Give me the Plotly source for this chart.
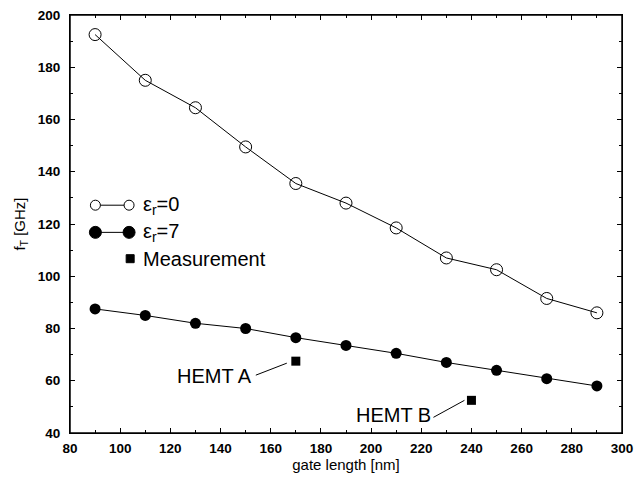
import plotly.graph_objects as go

gate_length = [90, 110, 130, 150, 170, 190, 210, 230, 250, 270, 290]
ft_er0 = [192.5, 175.0, 164.5, 149.5, 135.5, 128.0, 118.5, 107.0, 102.5, 91.5, 86.0]
ft_er7 = [87.5, 85.0, 82.0, 80.0, 76.5, 73.5, 70.5, 67.0, 64.0, 60.8, 58.0]
meas_x = [170, 240]
meas_y = [67.5, 52.5]
meas_labels = ["HEMT A", "HEMT B"]
legend_labels = ["ε<sub>r</sub>=0", "ε<sub>r</sub>=7", "Measurement"]

FONT = "Liberation Sans, Arial, Helvetica, sans-serif"

fig = go.Figure()
fig.add_trace(go.Scatter(x=gate_length, y=ft_er0, mode="lines+markers",
                         line=dict(color="black", width=1),
                         marker=dict(symbol="circle-open", size=12, color="black", line=dict(width=1)),
                         showlegend=False))
fig.add_trace(go.Scatter(x=gate_length, y=ft_er7, mode="lines+markers",
                         line=dict(color="black", width=1),
                         marker=dict(symbol="circle", size=11, color="black"),
                         showlegend=False))
fig.add_trace(go.Scatter(x=meas_x, y=meas_y, mode="markers",
                         marker=dict(symbol="square", size=9, color="black"),
                         showlegend=False))

# Plot frame
shapes = [dict(type="rect", xref="paper", yref="paper", x0=0, x1=1, y0=0, y1=1,
               line=dict(color="black", width=1.5), fillcolor="rgba(0,0,0,0)", layer="above")]

# Labels and leader lines for the measurements (pixel offsets anchored at the data points)
text_shift = [(-81, -14.5), (-78, -15)]
leader = [((-40, -14), (-9, -2)), ((-38, -17), (-7, 0))]
for x, y, t, (sx, sy), ((tx, ty), (hx, hy)) in zip(meas_x, meas_y, meas_labels, text_shift, leader):
    fig.add_annotation(x=x, y=y, xref="x", yref="y", text=t, showarrow=False,
                       xshift=sx, yshift=sy, font=dict(family=FONT, size=20, color="black"))
    shapes.append(dict(type="line", xref="x", yref="y", xsizemode="pixel", ysizemode="pixel",
                       xanchor=x, yanchor=y, x0=tx, x1=hx, y0=ty, y1=hy,
                       line=dict(color="black", width=1)))

# Manual legend (paper coords)
lx0, lx1 = 0.046, 0.107
ly = [0.545, 0.480, 0.417]
for i, filled in enumerate([False, True]):
    r = 6 if filled else 5
    shapes.append(dict(type="line", xref="paper", yref="paper", x0=lx0, x1=lx1, y0=ly[i], y1=ly[i],
                       line=dict(color="black", width=1)))
    for xx in (lx0, lx1):
        shapes.append(dict(type="circle", xref="paper", yref="paper", xsizemode="pixel", ysizemode="pixel",
                           xanchor=xx, yanchor=ly[i], x0=-r, x1=r, y0=-r, y1=r,
                           line=dict(color="black", width=1),
                           fillcolor="black" if filled else "white"))
shapes.append(dict(type="rect", xref="paper", yref="paper", xsizemode="pixel", ysizemode="pixel",
                   xanchor=lx1 + 0.002, yanchor=ly[2], x0=-4, x1=4, y0=-4, y1=4,
                   line=dict(color="black", width=1), fillcolor="black"))
for i, lab in enumerate(legend_labels):
    fig.add_annotation(x=0.128, y=ly[i], xref="paper", yref="paper", text=lab, showarrow=False,
                       xanchor="left", yanchor="middle", font=dict(family=FONT, size=20, color="black"))

axis_common = dict(showline=True, linecolor="black", linewidth=1, mirror="allticks",
                   ticks="inside", ticklen=5, tickcolor="black", showgrid=False, zeroline=False,
                   automargin=False,
                   tickfont=dict(family=FONT, size=13.5, color="black", weight="bold"),
                   minor=dict(ticks="inside", ticklen=3, tickcolor="black", dtick=10))

fig.update_layout(
    width=638, height=477,
    margin=dict(l=70, r=16, t=15, b=44),
    paper_bgcolor="white", plot_bgcolor="white",
    shapes=shapes,
    xaxis=dict(range=[80, 300], dtick=20, ticklabelstandoff=3,
               title=dict(text="gate length [nm]", standoff=2,
                          font=dict(family=FONT, size=15, color="black")), **axis_common),
    yaxis=dict(range=[40, 200], dtick=20, ticklabelstandoff=6,
               title=dict(text="f<sub>T</sub> [GHz]", standoff=8,
                          font=dict(family=FONT, size=15, color="black")), **axis_common),
)

fig.write_html("out.html", config={"displayModeBar": False},
               post_script="document.body.style.margin='0';document.body.style.overflow='hidden';")
